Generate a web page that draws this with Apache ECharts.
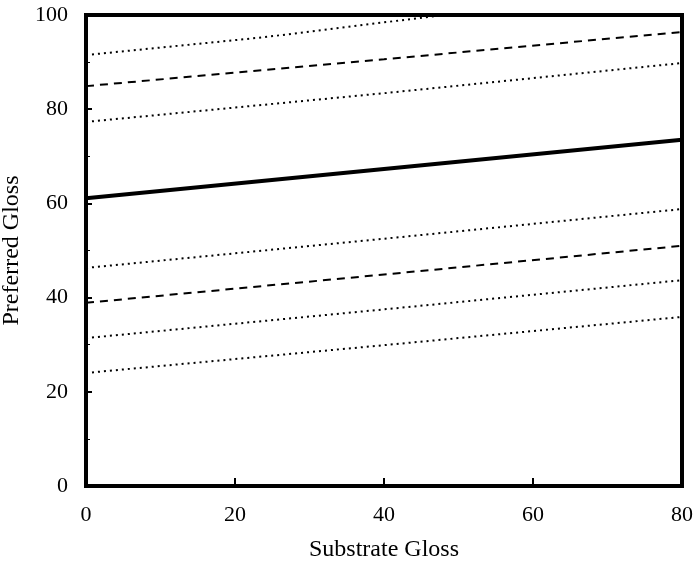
<!DOCTYPE html>
<html>
<head>
<meta charset="utf-8">
<script src="https://cdn.jsdelivr.net/npm/echarts@6/dist/echarts.min.js"></script>
<style>
  html, body { margin: 0; padding: 0; background: #fff; }
  #main { width: 696px; height: 568px; }
</style>
</head>
<body>
<div id="main"></div>
<script>
// values: [substrate gloss, preferred gloss]
var topDotted = [[0, 91.5], [24, 95.3], [48, 100]];
var upperDashed = [[0, 84.9], [40, 90.6], [80, 96.4]];
var upperDotted = [[0, 77.3], [40, 83.4], [80, 89.8]];
var solidLine = [[0, 61.1], [40, 67.3], [80, 73.5]];
var lowerDotted1 = [[0, 46.3], [40, 52.5], [80, 58.8]];
var lowerDashed = [[0, 38.9], [40, 44.9], [80, 51.0]];
var lowerDotted2 = [[0, 31.4], [40, 37.5], [80, 43.7]];
var lowerDotted3 = [[0, 24.0], [40, 29.9], [80, 35.9]];

var xTicks = [0, 20, 40, 60, 80];
var yTicks = [0, 20, 40, 60, 80, 100];

var font = '"Liberation Serif", "DejaVu Serif", serif';

function lineSeries(data, type, width) {
    return {
        type: 'line',
        data: data,
        symbol: 'none',
        silent: true,
        lineStyle: { color: '#000', width: width, type: type }
    };
}

var myChart = echarts.init(document.getElementById('main'));
myChart.setOption({
    backgroundColor: '#fff',
    animation: false,
    grid: {
        left: 86, right: 14, top: 15, bottom: 82,
        containLabel: false,
        outerBoundsMode: 'none',
        show: true,
        borderColor: '#000',
        borderWidth: 4
    },
    xAxis: {
        type: 'value',
        min: 0, max: 80, interval: 20,
        name: 'Substrate Gloss',
        nameLocation: 'middle',
        nameGap: 52,
        nameTextStyle: { fontFamily: font, fontSize: 24, color: '#000' },
        axisLine: { show: false },
        axisTick: { show: true, inside: true, length: 8, lineStyle: { color: '#000', width: 2 } },
        axisLabel: {
            fontFamily: font, fontSize: 22, color: '#000', margin: 18,
            formatter: function (v) { return xTicks.indexOf(v) >= 0 ? String(v) : ''; }
        },
        splitLine: { show: false }
    },
    yAxis: {
        type: 'value',
        min: 0, max: 100, interval: 20,
        name: 'Preferred Gloss',
        nameLocation: 'middle',
        nameGap: 58,
        nameTextStyle: { fontFamily: font, fontSize: 24, color: '#000' },
        axisLine: { show: false },
        axisTick: { show: true, inside: true, length: 6, lineStyle: { color: '#000', width: 2 } },
        minorTick: { show: true, splitNumber: 2, length: 4, lineStyle: { color: '#000', width: 1 } },
        axisLabel: {
            fontFamily: font, fontSize: 22, color: '#000', margin: 18,
            formatter: function (v) { return yTicks.indexOf(v) >= 0 ? String(v) : ''; }
        },
        splitLine: { show: false }
    },
    series: [
        lineSeries(topDotted, [2, 4], 2),
        lineSeries(upperDashed, [8, 6], 2),
        lineSeries(upperDotted, [2, 4], 2),
        lineSeries(solidLine, 'solid', 4),
        lineSeries(lowerDotted1, [2, 4], 2),
        lineSeries(lowerDashed, [8, 6], 2),
        lineSeries(lowerDotted2, [2, 4], 2),
        lineSeries(lowerDotted3, [2, 4], 2)
    ]
});
</script>
</body>
</html>
